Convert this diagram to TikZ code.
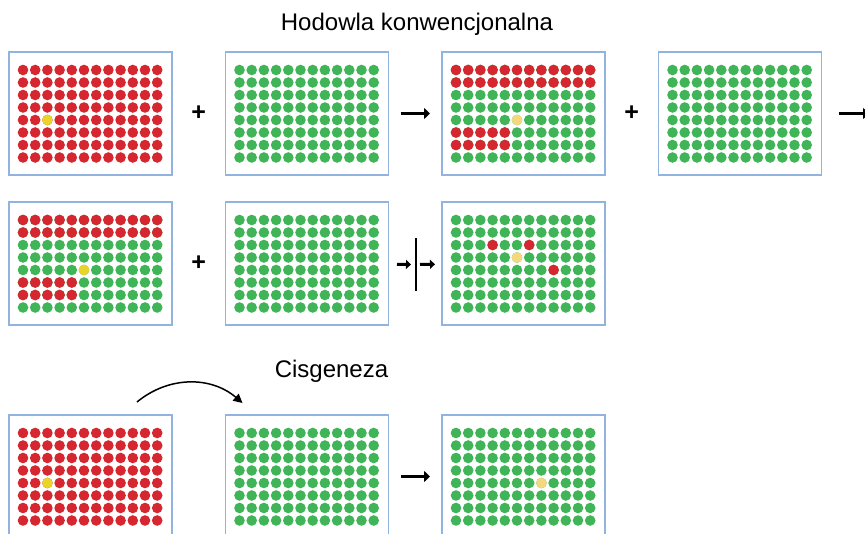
\documentclass[tikz,border=0pt]{standalone}
\usepackage{fontspec}
\setmainfont{Liberation Sans}
\usetikzlibrary{positioning,calc,arrows.meta}

\definecolor{wellred}{RGB}{214,38,48}
\definecolor{wellgreen}{RGB}{63,181,88}
\definecolor{wellyellow}{RGB}{234,212,42}
\definecolor{paleyellow}{RGB}{244,216,126}
\definecolor{plateblue}{RGB}{146,178,224}

% one well of a plate: node, column, row, colour
\newcommand{\well}[4]{\fill[#4] ($(#1.north west)+(14+12.2*#2,-18-12.5*#3)$) circle (5.3pt);}
% all 12x8 wells in one colour
\newcommand{\wellgrid}[2]{\foreach \cc in {0,...,11}{\foreach \rr in {0,...,7}{\well{#1}{\cc}{\rr}{#2}}}}
% backcrossed plate: green with red stripes, #2 = marker colour
\newcommand{\crossgrid}[2]{%
  \wellgrid{#1}{wellgreen}
  \foreach \cc in {0,...,11}{\foreach \rr in {0,1}{\well{#1}{\cc}{\rr}{wellred}}}
  \foreach \cc in {0,...,4}{\foreach \rr in {5,6}{\well{#1}{\cc}{\rr}{wellred}}}
  \well{#1}{5}{4}{#2}}

\begin{document}
\begin{tikzpicture}[x=1pt,y=1pt,
      node distance=27pt and 53.5pt,
      plate/.style={draw=plateblue,line width=1.3pt,fill=white,minimum width=163pt,minimum height=123pt,inner sep=0pt,outer sep=0pt},
      title/.style={font=\fontsize{24}{28}\selectfont,anchor=base},
      plus/.style={font=\fontsize{25}{27}\selectfont\bfseries},
      arrow/.style={-{Triangle[length=6pt,width=11pt]},line width=3.5pt,shorten <=12pt,shorten >=12pt},
      smallarrow/.style={-{Triangle[length=5pt,width=9pt]},line width=3pt},
      lift/.style={-{Triangle[length=9pt,width=9pt]},line width=1.5pt}]
    \useasboundingbox (0,0) rectangle (865,-534);
    \clip (0,0) rectangle (865,-534);

    \node[title] (hodowla) at (417,-31) {Hodowla konwencjonalna};
    \node[title] (cisgeneza) at (331.5,-378) {Cisgeneza};

    % conventional breeding
    \node[plate] (p1) at (90.5,-113.5) {};
    \node[plate,right=of p1] (p2) {};
    \node[plate,right=of p2] (p3) {};
    \node[plate,right=of p3] (p4) {};
    \node[plate,below=of p1] (p5) {};
    \node[plate,right=of p5] (p6) {};
    \node[plate,right=of p6] (p7) {};
    % cisgenesis
    \node[plate] (p8) at (90.5,-476.5) {};
    \node[plate,right=of p8] (p9) {};
    \node[plate,right=of p9] (p10) {};

    \wellgrid{p1}{wellred}
    \well{p1}{2}{4}{wellyellow}
    \wellgrid{p2}{wellgreen}
    \crossgrid{p3}{paleyellow}
    \wellgrid{p4}{wellgreen}
    \crossgrid{p5}{wellyellow}
    \wellgrid{p6}{wellgreen}
    \wellgrid{p7}{wellgreen}
    \well{p7}{3}{2}{wellred}
    \well{p7}{6}{2}{wellred}
    \well{p7}{8}{4}{wellred}
    \well{p7}{5}{3}{paleyellow}
    \wellgrid{p8}{wellred}
    \well{p8}{2}{4}{wellyellow}
    \wellgrid{p9}{wellgreen}
    \wellgrid{p10}{wellgreen}
    \well{p10}{7}{4}{paleyellow}

    \node[plus] (plus1) at ($(p1.east)!0.5!(p2.west)$) {+};
    \node[plus] (plus2) at ($(p3.east)!0.5!(p4.west)$) {+};
    \node[plus] (plus3) at ($(p5.east)!0.5!(p6.west)$) {+};

    \draw[arrow] (p2) -- (p3);
    \coordinate (offpage) at (869,-113.5);
    \draw[arrow,shorten <=17pt,shorten >=0pt] (p4) -- (offpage);

    \node[minimum height=53pt,minimum width=0pt,inner sep=0pt,outer sep=0pt] (cut) at (416,-264.5) {};
    \draw[line width=2pt] (cut.north) -- (cut.south);
    \draw[smallarrow,shorten <=8.5pt,shorten >=5pt] (p6) -- (cut);
    \draw[smallarrow,shorten <=4pt,shorten >=7pt] (cut) -- (p7);

    \coordinate (liftA) at ($(p8.north east)+(-35,13)$);
    \coordinate (liftB) at ($(p9.north west)+(17,12)$);
    \draw[lift] (liftA) to[bend left=40] (liftB);
    \draw[arrow] (p9) -- (p10);
  \end{tikzpicture}
\end{document}
